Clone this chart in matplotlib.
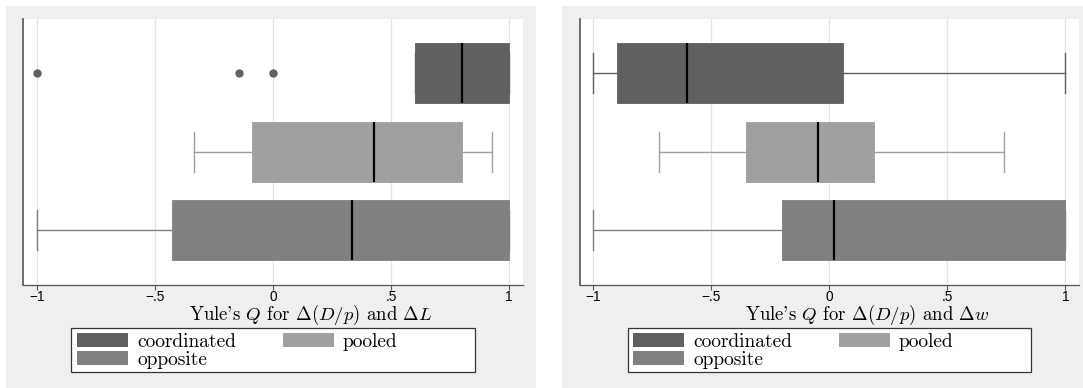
import matplotlib
matplotlib.use("Agg")
import matplotlib.pyplot as plt
from matplotlib.patches import Rectangle, Patch
from matplotlib.ticker import FixedLocator

plt.rcParams['mathtext.fontset'] = 'cm'

# box statistics per group: (whislo, q1, median, q3, whishi), outliers
groups = ["coordinated", "pooled", "opposite"]
colors = ["#606060", "#a0a0a0", "#808080"]

# Yule's Q for d(D/p) and dL
left_whislo = [0.6, -0.333, -1.0]
left_q1 = [0.6, -0.09, -0.43]
left_med = [0.8, 0.43, 0.333]
left_q3 = [1.0, 0.8, 1.0]
left_whishi = [1.0, 0.93, 1.0]
left_fliers = [[-1.0, -0.143, 0.0], [], []]

# Yule's Q for d(D/p) and dw
right_whislo = [-1.0, -0.72, -1.0]
right_q1 = [-0.9, -0.355, -0.2]
right_med = [-0.605, -0.047, 0.021]
right_q3 = [0.06, 0.188, 1.0]
right_whishi = [1.0, 0.74, 1.0]
right_fliers = [[], [], []]

xticks = [-1, -0.5, 0, 0.5, 1]
xticklabels = ["\u22121", "\u2212.5", "0", ".5", "1"]

left_label = r"Yule's $Q$ for $\Delta(D/p)$ and $\Delta L$"
right_label = r"Yule's $Q$ for $\Delta(D/p)$ and $\Delta w$"

W, H = 1083, 388
BG = "#efefef"

fig = plt.figure(figsize=(W / 100, H / 100), dpi=100)
fig.patch.set_facecolor("white")


def px(x0, y0, x1, y1):
    # pixel box (top-left origin) -> figure fraction rect
    return [x0 / W, 1 - y1 / H, (x1 - x0) / W, (y1 - y0) / H]


def panel(off, whislo, q1, med, q3, whishi, fliers, label):
    r = px(off + 5.7, 5.7, off + 536, H)
    fig.patches.append(Rectangle((r[0], r[1]), r[2], r[3],
                                 transform=fig.transFigure, facecolor=BG,
                                 edgecolor="none", zorder=-5))
    ax = fig.add_axes(px(off + 23.3, 19, off + 522.7, 284.7))
    ax.set_facecolor("white")
    stats = []
    for i in range(3):
        stats.append(dict(whislo=whislo[i], q1=q1[i], med=med[i], q3=q3[i],
                          whishi=whishi[i], fliers=fliers[i]))
    pos = [3, 2, 1]
    bp = ax.bxp(stats, positions=pos, vert=False, widths=0.766,
                patch_artist=True, showfliers=True, capwidths=0.51,
                medianprops=dict(color="black", linewidth=1.6),
                flierprops=dict(marker="o", markersize=5,
                                markerfacecolor=colors[0],
                                markeredgecolor=colors[0]))
    for i, box in enumerate(bp["boxes"]):
        box.set_facecolor(colors[i])
        box.set_edgecolor(colors[i])
        box.set_linewidth(0.6)
    for j, line in enumerate(bp["whiskers"]):
        line.set_color(colors[j // 2])
        line.set_linewidth(1.0)
    for j, line in enumerate(bp["caps"]):
        line.set_color(colors[j // 2])
        line.set_linewidth(1.0)
    for i, fl in enumerate(bp["fliers"]):
        fl.set_markerfacecolor(colors[i])
        fl.set_markeredgecolor(colors[i])
    for med_line in bp["medians"]:
        med_line.set_zorder(3)

    ax.set_xlim(-1.058, 1.058)
    ax.set_ylim(0.30, 3.693)
    ax.xaxis.set_major_locator(FixedLocator(xticks))
    ax.set_xticklabels(xticklabels, family="Liberation Sans", fontsize=9.8)
    ax.set_yticks([])
    ax.grid(axis="x", color="#e4e4e4", linewidth=0.9)
    ax.set_axisbelow(True)
    for s in ("top", "right"):
        ax.spines[s].set_visible(False)
    ax.spines["bottom"].set_color("#555555")
    ax.spines["bottom"].set_linewidth(0.9)
    ax.spines["left"].set_color("#555555")
    ax.spines["left"].set_linewidth(1.2)
    ax.tick_params(axis="x", direction="out", length=3.4, width=0.8,
                   color="#555555", pad=0.6)

    fig.text((off + 311) / W, 1 - 319.5 / H, label, ha="center",
             va="baseline", fontsize=13.5, family="cmr10")

    # legend frame, fixed width like the panel layout
    f = px(off + 71.3, 328, off + 475, 372)
    fig.patches.append(Rectangle((f[0], f[1]), f[2], f[3],
                                 transform=fig.transFigure, facecolor="white",
                                 edgecolor="#333333", linewidth=0.9,
                                 zorder=1))
    handles = [Patch(facecolor=colors[0], edgecolor="none", label=groups[0]),
               Patch(facecolor=colors[2], edgecolor="none", label=groups[2]),
               Patch(facecolor=colors[1], edgecolor="none", label=groups[1])]
    leg = fig.legend(handles=handles, ncol=2, loc="upper left",
                     bbox_to_anchor=((off + 77) / W, 1 - 333 / H),
                     prop=dict(family="cmr10", size=14), frameon=False,
                     handlelength=2.63, handleheight=0.72, handletextpad=0.46,
                     columnspacing=2.4, labelspacing=0.0, borderpad=0,
                     borderaxespad=0)
    leg.set_zorder(2)
    return ax


panel(0, left_whislo, left_q1, left_med, left_q3, left_whishi,
      left_fliers, left_label)
panel(556.3, right_whislo, right_q1, right_med, right_q3, right_whishi,
      right_fliers, right_label)

fig.savefig("out.png", dpi=100, facecolor="white")
